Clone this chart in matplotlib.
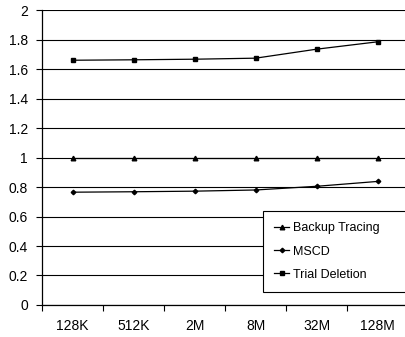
import numpy as np
import matplotlib
matplotlib.use('Agg')
import matplotlib.pyplot as plt

plt.rcParams['font.family'] = ['Liberation Sans', 'DejaVu Sans']

sizes = ['128K', '512K', '2M', '8M', '32M', '128M']
backup_tracing = [1.0, 1.0, 1.0, 1.0, 1.0, 1.0]
mscd = [0.765, 0.768, 0.772, 0.780, 0.805, 0.838]
trial_deletion = [1.660, 1.663, 1.667, 1.674, 1.735, 1.785]

fig = plt.figure(figsize=(4.05, 3.37), dpi=100)
ax = fig.add_axes([0.1037, 0.095, 0.904, 0.875])

x = np.arange(len(sizes))
ax.plot(x, backup_tracing, color='black', lw=0.9, marker='^', ms=3.3, label='Backup Tracing')
ax.plot(x, mscd, color='black', lw=0.9, marker='D', ms=2.3, label='MSCD')
ax.plot(x, trial_deletion, color='black', lw=0.9, marker='s', ms=3.3, label='Trial Deletion')

ax.set_xlim(-0.5, len(sizes) - 0.5)
ax.set_ylim(0, 2)
ax.set_yticks(np.arange(0, 2.01, 0.2))
ax.set_yticklabels(['0', '0.2', '0.4', '0.6', '0.8', '1', '1.2', '1.4', '1.6', '1.8', '2'])
ax.yaxis.grid(True, color='black', lw=0.8)
ax.set_axisbelow(True)

# category labels centred, tick marks on category boundaries
ax.set_xticks(x)
ax.set_xticklabels(sizes)
ax.tick_params(axis='x', length=0, pad=10, labelsize=10)
ax.set_xticks(np.arange(-0.5, len(sizes), 1.0), minor=True)
ax.tick_params(axis='x', which='minor', length=4, width=0.8, direction='out')
ax.tick_params(axis='y', length=4, width=0.8, labelsize=10, pad=6)

for s in ['top', 'right']:
    ax.spines[s].set_visible(False)
ax.spines['left'].set_linewidth(0.9)
ax.spines['bottom'].set_linewidth(0.9)

leg = ax.legend(loc='lower left', bbox_to_anchor=(0.604, 0.044, 0.45, 0.265),
                mode='expand', fancybox=False, framealpha=1, edgecolor='black',
                fontsize=9, handlelength=1.2, handletextpad=0.25,
                labelspacing=0.9, borderpad=0.9, borderaxespad=0)
leg.get_frame().set_linewidth(0.8)

fig.savefig('out.png', dpi=100)
